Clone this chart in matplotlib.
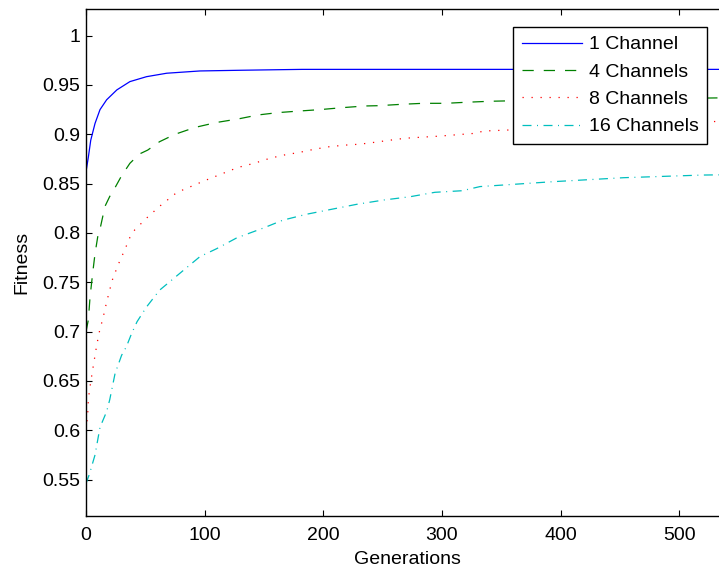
import matplotlib
matplotlib.use("Agg")
import matplotlib.pyplot as plt

plt.rcParams['font.family'] = ['Liberation Sans', 'DejaVu Sans']

# values (generation, fitness)
gen_1 = [0, 2, 4, 7.6, 11.8, 17.4, 26, 37, 51, 68, 96, 130, 164, 182, 250, 350, 450, 541]
fit_1 = [0.862, 0.877, 0.894, 0.911, 0.925, 0.935, 0.945, 0.9534, 0.9584, 0.9619, 0.9642,
         0.9649, 0.9655, 0.9658, 0.9658, 0.9658, 0.9658, 0.9658]

gen_4 = [0, 2, 3.4, 5.6, 7.6, 10, 12, 16, 20, 24.5, 30, 37, 45, 52, 62, 75, 92, 110, 128,
         145, 162, 180, 197, 216, 235, 246.5, 266, 284, 303, 321, 341, 400, 470, 541]
fit_4 = [0.700, 0.712, 0.735, 0.759, 0.779, 0.797, 0.805, 0.827, 0.837, 0.846, 0.858, 0.8706,
         0.880, 0.884, 0.8925, 0.900, 0.907, 0.912, 0.9155, 0.9196, 0.922, 0.9236, 0.925,
         0.927, 0.9287, 0.929, 0.9304, 0.9314, 0.9314, 0.9325, 0.9335, 0.935, 0.936, 0.937]

gen_8 = [0, 1.4, 2, 3.5, 5.3, 9, 11.8, 14, 17.4, 21, 23, 26, 28.7, 32, 37, 41, 51, 62, 76.5,
         100, 123, 130, 141.7, 155, 167, 180, 193, 205, 218, 231, 244, 256, 269, 282, 296,
         310, 328, 335, 430, 541]
fit_8 = [0.600, 0.615, 0.632, 0.645, 0.659, 0.686, 0.703, 0.712, 0.730, 0.747, 0.7556, 0.764,
         0.7725, 0.781, 0.7955, 0.803, 0.815, 0.827, 0.841, 0.853, 0.864, 0.867, 0.8706,
         0.8757, 0.879, 0.8817, 0.885, 0.8874, 0.889, 0.890, 0.892, 0.894, 0.896, 0.897,
         0.898, 0.8993, 0.901, 0.9033, 0.908, 0.9135]

gen_16 = [0, 3, 7.6, 11.8, 17.4, 20, 24.5, 30, 34, 38.4, 43, 51, 62, 79, 96, 110, 127, 149.5,
          166, 186, 207, 228, 251, 273, 294, 317, 332, 394, 453, 520, 541]
fit_16 = [0.546, 0.556, 0.575, 0.603, 0.619, 0.631, 0.6576, 0.676, 0.6846, 0.698, 0.71, 0.725,
          0.742, 0.759, 0.776, 0.784, 0.795, 0.805, 0.813, 0.819, 0.824, 0.829, 0.8334, 0.8367,
          0.8412, 0.8428, 0.847, 0.852, 0.856, 0.8587, 0.859]

labels = ['1 Channel', '4 Channels', '8 Channels', '16 Channels']
yticks = [0.55, 0.6, 0.65, 0.7, 0.75, 0.8, 0.85, 0.9, 0.95, 1]
yticklabels = ['0.55', '0.6', '0.65', '0.7', '0.75', '0.8', '0.85', '0.9', '0.95', '1']

fig = plt.figure(figsize=(7.19, 5.71), dpi=100)
ax = fig.add_axes([86/719, 55.3/571, 642/719, 506.7/571])

lw = 0.9
ax.plot(gen_1, fit_1, '-', color=(0, 0, 1), lw=lw, label=labels[0])
ax.plot(gen_4, fit_4, '--', color=(0, 0.5, 0), lw=lw, dashes=(9, 8), label=labels[1])
ax.plot(gen_8, fit_8, ':', color=(1, 0, 0), lw=lw, dashes=(1, 6.2), label=labels[2])
ax.plot(gen_16, fit_16, '-.', color=(0, 0.75, 0.75), lw=lw, dashes=(7.2, 4.4, 0.8, 4.4),
        label=labels[3])

ax.set_xlim(0, 541)
ax.set_ylim(0.5134, 1.027)
ax.set_xticks([0, 100, 200, 300, 400, 500])
ax.set_yticks(yticks)
ax.set_yticklabels(yticklabels)
ax.tick_params(direction='in', top=True, right=True, length=4.5, width=0.8,
               labelsize=14)
ax.tick_params(axis='y', pad=4)
ax.tick_params(axis='x', pad=8)
for s in ax.spines.values():
    s.set_linewidth(1.0)

ax.set_xlabel('Generations', fontsize=14, labelpad=5)
ax.set_ylabel('Fitness', fontsize=14, labelpad=9)

leg = ax.legend(loc='upper left', bbox_to_anchor=(513/719, 1 - 27/571),
                bbox_transform=fig.transFigure, borderaxespad=0, fancybox=False,
                framealpha=1, edgecolor='k', fontsize=14, handlelength=3.1,
                handletextpad=0.35, labelspacing=0.5, borderpad=0.45)
leg.get_frame().set_linewidth(1.0)

fig.savefig('out.png', dpi=100)
